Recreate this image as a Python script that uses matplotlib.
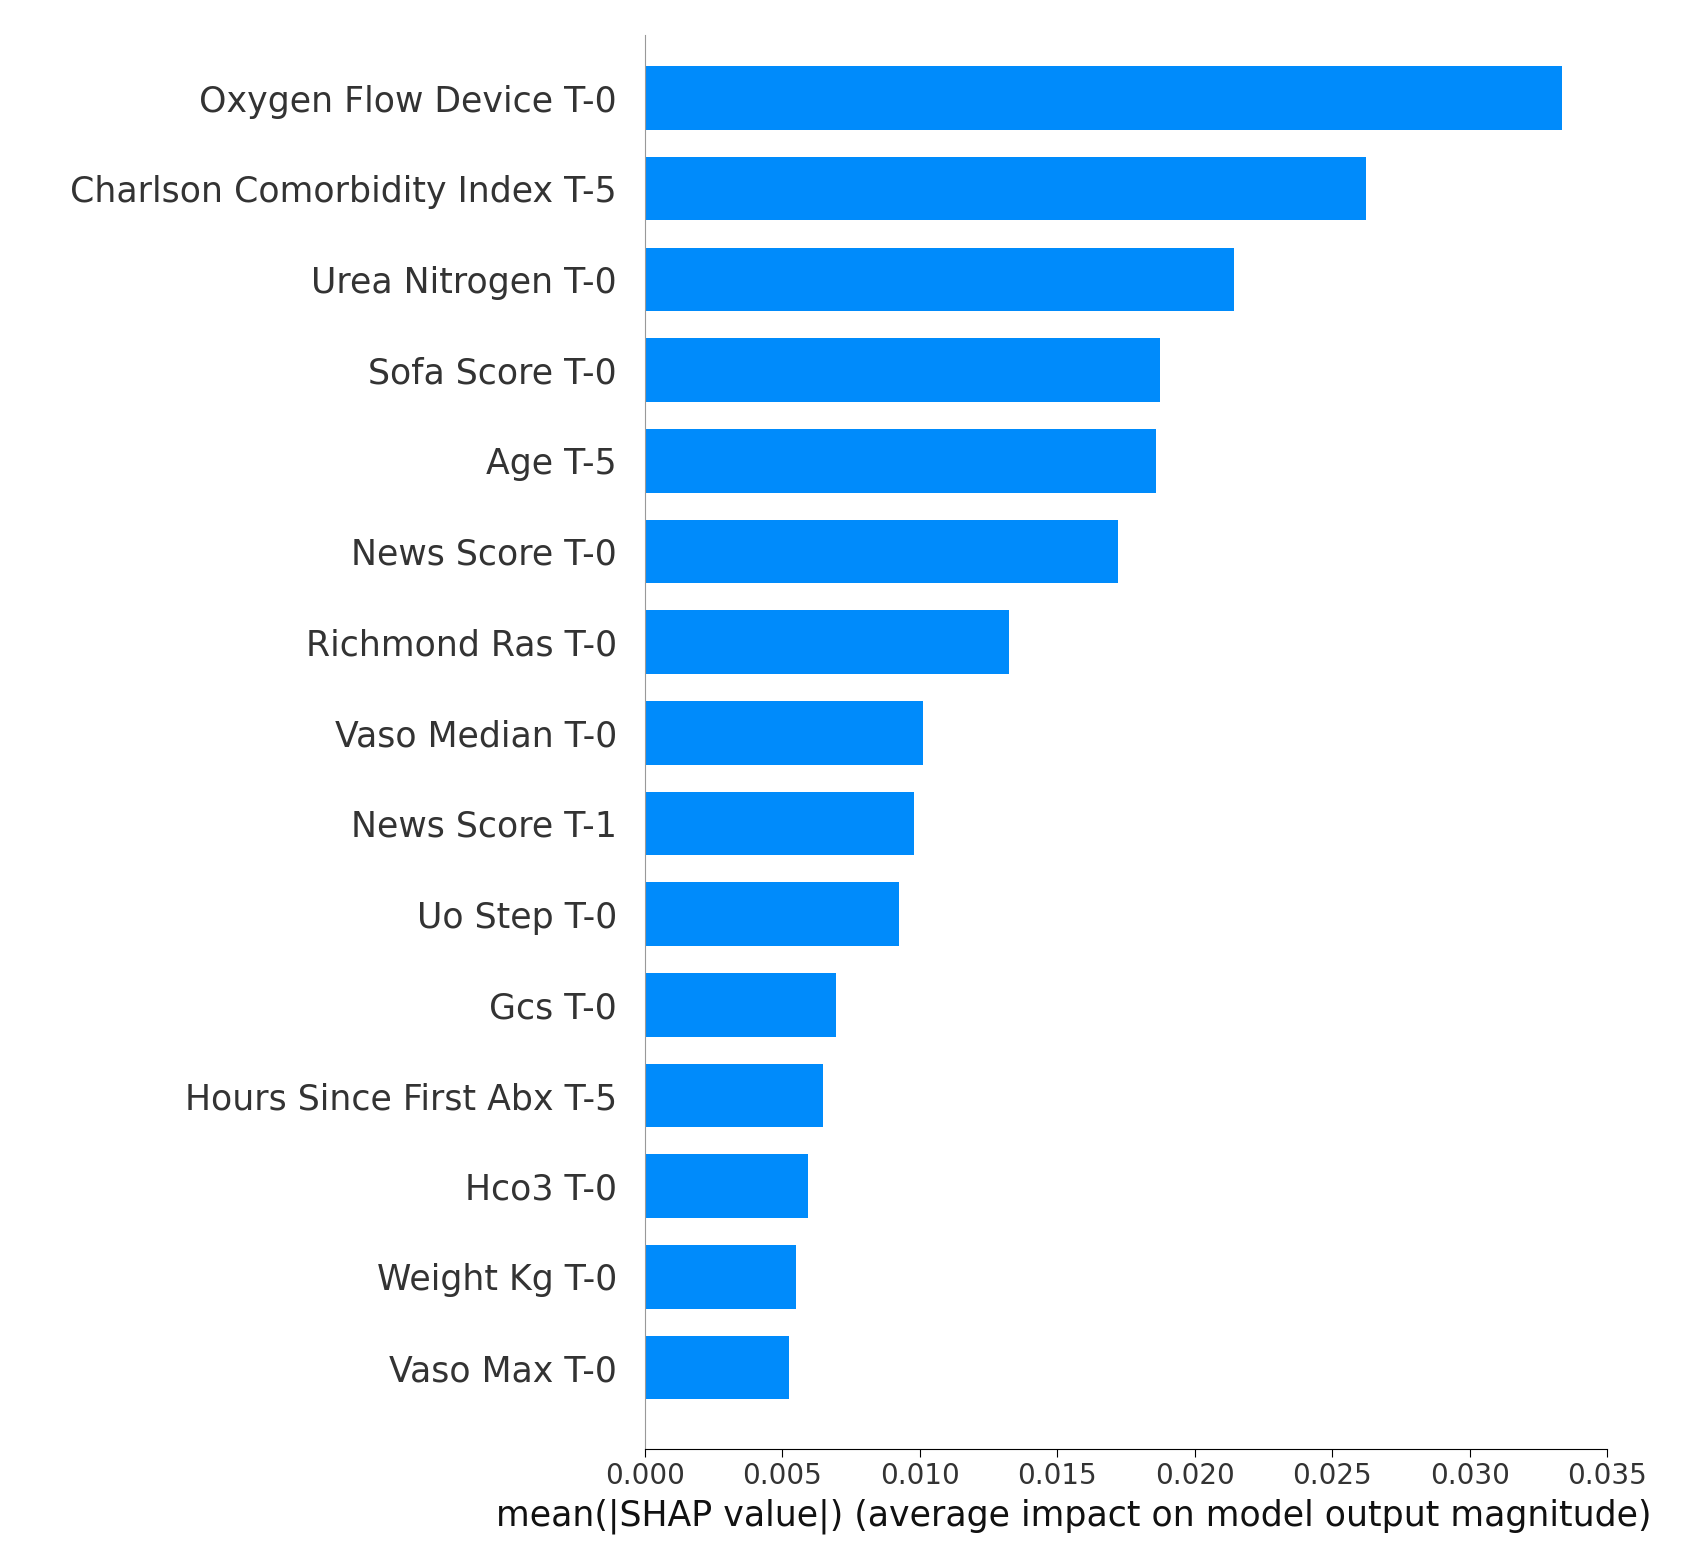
import matplotlib
matplotlib.use("Agg")
import matplotlib.pyplot as plt

features = ["Oxygen Flow Device T-0", "Charlson Comorbidity Index T-5", "Urea Nitrogen T-0",
            "Sofa Score T-0", "Age T-5", "News Score T-0", "Richmond Ras T-0", "Vaso Median T-0",
            "News Score T-1", "Uo Step T-0", "Gcs T-0", "Hours Since First Abx T-5",
            "Hco3 T-0", "Weight Kg T-0", "Vaso Max T-0"]
values = [0.03335, 0.02624, 0.02141, 0.01874, 0.01858, 0.01721, 0.01324, 0.0101,
          0.00978, 0.00923, 0.00695, 0.00648, 0.00593, 0.0055, 0.00526]
xticks = [0.0, 0.005, 0.01, 0.015, 0.02, 0.025, 0.03, 0.035]

W, H = 1685, 1568
fig = plt.figure(figsize=(W/100, H/100), dpi=100)
sx, sy = W/1560, H/1452
ax = fig.add_axes([597/1560, 1-1342/1452, (1488-597)/1560, (1342-32)/1452])
n = len(features)
ypos = list(range(n-1, -1, -1))
ax.barh(ypos, values, height=0.7, color="#008bfb")
ax.set_yticks(ypos)
ax.set_yticklabels(features, fontsize=25, color="#333333")
ax.tick_params(axis="y", length=0, pad=20)
ax.set_xticks(xticks)
ax.set_xticklabels([f"{t:.3f}" for t in xticks], fontsize=20, color="#333333")
ax.tick_params(axis="x", length=6, labelsize=20)
ax.set_xlim(0, 0.035)
ax.set_ylim(-0.9, n-0.3)
ax.spines["top"].set_visible(False)
ax.spines["right"].set_visible(False)
ax.spines["left"].set_color("#999999")
ax.set_xlabel("mean(|SHAP value|) (average impact on model output magnitude)", fontsize=25, color="#111111", labelpad=6)
ax.xaxis.label.set_horizontalalignment("left")
ax.xaxis.set_label_coords(-0.155, -0.035)
fig.savefig("out.png", dpi=100)
